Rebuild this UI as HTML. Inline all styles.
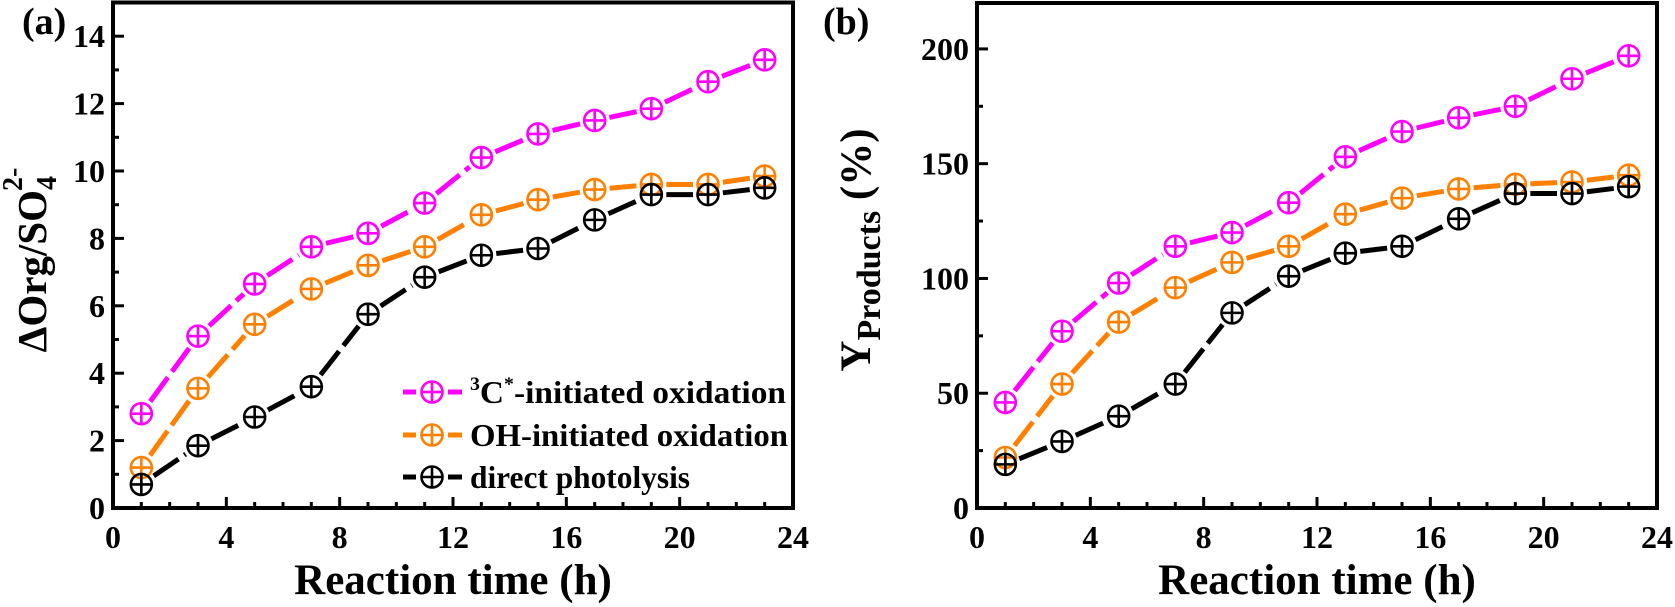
<!DOCTYPE html>
<html><head><meta charset="utf-8"><style>
html,body{margin:0;padding:0;background:#fff}
svg{display:block;font-family:"Liberation Serif",serif;font-weight:bold}
</style></head><body>
<svg id="c" width="1675" height="607" viewBox="0 0 1675 607"></svg>
<script>
const times=[1,3,5,7,9,11,13,15,17,19,21,23];
const aMagenta=[2.8,5.1,6.65,7.75,8.15,9.05,10.4,11.1,11.5,11.85,12.65,13.3];
const aOrange=[1.2,3.55,5.45,6.5,7.2,7.75,8.7,9.15,9.45,9.6,9.6,9.85];
const aBlack=[0.7,1.85,2.7,3.6,5.75,6.85,7.5,7.7,8.55,9.3,9.3,9.5];
const bMagenta=[46,77,98,114,120,133,153,164,170,175,187,197];
const bOrange=[22,54,81,96,107,114,128,135,139,141,142,145];
const bBlack=[19,29,40,54,85,101,111,114,126,137,137,140];
const xTicks=[0,4,8,12,16,20,24];
const aYTicks=[0,2,4,6,8,10,12,14];
const bYTicks=[0,50,100,150,200];
const seriesNames=["3C*-initiated oxidation","OH-initiated oxidation","direct photolysis"];
const colors=["#ff00ff","#ff8000","#000000"];
const NS="http://www.w3.org/2000/svg";
const svg=document.getElementById('c');
function mk(tag,attrs,parent){const e=document.createElementNS(NS,tag);for(const k in attrs)e.setAttribute(k,attrs[k]);(parent||svg).appendChild(e);return e;}
function marker(g,x,y,col){
  const m=mk('g',{},g);
  
  
  mk('circle',{cx:x,cy:y,r:10.5,fill:'none',stroke:col,'stroke-width':2.6},m);
  mk('line',{x1:x-10.5,y1:y,x2:x+10.5,y2:y,stroke:col,'stroke-width':2.6},m);
  mk('line',{x1:x,y1:y-10.5,x2:x,y2:y+10.5,stroke:col,'stroke-width':2.6},m);
}
function panel(cfg){
  const g=mk('g',{});
  
  
  const X=v=>cfg.x0+(v-0)/24*(cfg.x1-cfg.x0);
  const Y=v=>cfg.y0-(v/cfg.ymax)*(cfg.y0-cfg.y1);
  for(let v=0;v<=24;v++){const maj=v%4===0;
    const t=mk('line',{x1:X(v),y1:cfg.y0,x2:X(v),y2:cfg.y0-(maj?11:6),stroke:'#000','stroke-width':3},g);
    }
  for(let v=0;v<=cfg.ymax;v+=cfg.minor){const maj=Math.abs(v/cfg.major-Math.round(v/cfg.major))<1e-6;
    const t=mk('line',{x1:cfg.x0,y1:Y(v),x2:cfg.x0+(maj?11:6),y2:Y(v),stroke:'#000','stroke-width':3},g);
    }
  const fr=mk('rect',{x:cfg.x0,y:cfg.y1,width:cfg.x1-cfg.x0,height:cfg.y0-cfg.y1,fill:'none',stroke:'#000','stroke-width':4},g);
  
  xTicks.forEach(v=>{const t=mk('text',{x:X(v),y:cfg.y0+40,'text-anchor':'middle','font-size':32},g);t.textContent=v;
    });
  cfg.yt.forEach(v=>{const t=mk('text',{x:cfg.x0-8,y:Y(v)+11,'text-anchor':'end','font-size':32},g);t.textContent=v;
    });
  cfg.series.forEach((s,si)=>{
    const sg=mk('g',{},g);
    
    
    for(let i=0;i<s.length-1;i++){
      const xa=X(times[i]),ya=Y(s[i]),xb=X(times[i+1]),yb=Y(s[i+1]);
      const d=Math.hypot(xb-xa,yb-ya),ux=(xb-xa)/d,uy=(yb-ya)/d,gp=15;
      if(d>2*gp+2) mk('line',{x1:xa+ux*gp,y1:ya+uy*gp,x2:xb-ux*gp,y2:yb-uy*gp,stroke:colors[si],'stroke-width':5,'stroke-dasharray':'30 7'},sg);
    }
    s.forEach((v,i)=>marker(sg,X(times[i]),Y(v),colors[si]));
  });
  const xl=mk('text',{x:(cfg.x0+cfg.x1)/2,y:594,'text-anchor':'middle','font-size':43},g);
  xl.textContent='Reaction time (h)';
  
  const pl=mk('text',{x:cfg.lx,y:34,'font-size':38},g);pl.textContent=cfg.label;
  
  return g;
}
panel({name:'panel-a',x0:113,x1:793,y0:508,y1:2.5,ymax:15,major:2,minor:1,yt:aYTicks,series:[aMagenta,aOrange,aBlack],label:'(a)',lx:22});
panel({name:'panel-b',x0:977,x1:1657,y0:508,y1:3,ymax:220,major:50,minor:25,yt:bYTicks,series:[bMagenta,bOrange,bBlack],label:'(b)',lx:823});
const ya=mk('text',{transform:'translate(46,260) rotate(-90)','text-anchor':'middle','font-size':41});
ya.innerHTML='ΔOrg/SO<tspan font-size="28" dy="10">4</tspan><tspan font-size="28" dy="-34" dx="-15">2-</tspan>';

const yb=mk('text',{transform:'translate(870,250) rotate(-90)','text-anchor':'middle','font-size':43});
yb.innerHTML='Y<tspan font-size="34" dy="10">Products</tspan><tspan dy="-10"> (%)</tspan>';

const lg=mk('g',{});


const ly=[392,435,477];
seriesNames.forEach((n,i)=>{
  const e=mk('g',{},lg);
  
  
  mk('line',{x1:403,y1:ly[i],x2:416,y2:ly[i],stroke:colors[i],'stroke-width':5},e);
  mk('line',{x1:448,y1:ly[i],x2:462,y2:ly[i],stroke:colors[i],'stroke-width':5},e);
  marker(e,432,ly[i],colors[i]);
  const t=mk('text',{x:470,y:ly[i]+11,'font-size':32,textLength:i===0?316:(i===1?318:220),lengthAdjust:'spacingAndGlyphs'},e);
  if(i===0) t.innerHTML='<tspan font-size="19" dy="-13">3</tspan><tspan dy="13">C</tspan><tspan font-size="19" dy="-13">*</tspan><tspan dy="13">-initiated oxidation</tspan>';
  else t.textContent=n;
});
</script>
</body></html>
